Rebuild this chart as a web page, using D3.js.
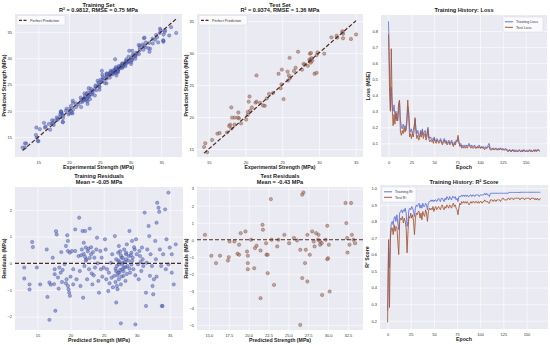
<!DOCTYPE html>
<html>
<head>
<meta charset="utf-8">
<script src="https://cdn.jsdelivr.net/npm/d3@7"></script>
<style>
body { margin: 0; background: #fff; }
text { font-family: "Liberation Sans", Arial, sans-serif; }
</style>
</head>
<body>
<svg id="chart" width="550" height="345"></svg>
<script>
// training set: predicted strength and residual (experimental - predicted)
var trainPred = [13.0,13.0,13.8,13.8,14.2,14.3,14.9,15.4,16.4,16.5,16.8,16.8,17.0,17.3,17.6,17.6,17.8,17.9,17.5,17.7,
  18.1,18.3,18.5,18.6,18.7,18.8,19.1,19.3,19.4,19.5,19.6,19.6,19.7,19.8,19.9,19.6,19.9,20.2,20.4,20.4,
  20.7,20.7,20.9,21.2,21.3,21.4,21.5,21.7,21.8,21.9,22.0,22.1,22.2,22.2,22.3,22.4,22.5,22.7,22.8,22.9,
  23.1,23.2,23.3,23.4,23.6,23.7,23.9,24.0,24.1,24.2,24.3,24.5,24.6,24.7,25.0,25.2,25.3,25.4,25.5,25.7,
  25.8,26.1,26.2,26.3,26.6,26.7,26.8,26.9,27.1,27.2,27.3,27.3,27.4,27.6,27.6,27.7,27.8,27.9,28.0,28.1,
  28.1,28.3,28.4,28.4,28.5,28.6,28.8,28.9,29.0,29.2,29.3,29.3,29.4,29.5,29.7,29.8,29.9,30.0,30.2,30.3,
  30.4,30.5,30.7,30.8,30.9,31.2,31.4,31.4,31.5,31.6,31.8,31.9,32.0,32.1,32.3,32.4,32.5,32.6,32.8,32.9,
  33.0,33.1,33.3,33.4,33.5,33.7,33.8,33.9,34.0,34.3,34.4,34.8,35.0,35.3,35.6,35.9,35.3,34.8,
  26.9,27.0,27.1,27.2,27.3,27.4,27.5,27.6,27.7,27.8,27.9,28.0,28.2,28.3,28.4,28.5,28.7,28.9,29.1,29.2,
  26.8,27.0,27.2,27.5,26.9,22.0,22.3,22.6,22.9,23.1,21.6,23.5,20.0,19.3,18.2,25.9,26.4,24.8,30.6,31.0,
  29.6,29.8,33.0,34.5];
var trainResid = [-0.16,-0.57,-0.79,-0.98,0.80,0.61,-0.16,-0.79,0.52,-1.26,-2.12,-0.72,-0.80,0.21,-0.41,-0.22,1.20,1.08,-0.78,-1.78,
  -0.53,-0.16,-0.35,0.42,-0.70,-0.25,-0.03,0.65,-0.60,1.05,0.84,-0.85,-0.98,-1.10,-1.22,0.46,0.40,0.46,-0.22,-0.79,
  0.46,1.27,-0.60,0.27,1.71,-0.29,-0.85,0.52,1.21,-1.29,0.77,-0.10,1.21,0.24,0.59,0.15,-0.60,0.55,-0.22,1.30,
  0.34,-0.38,-0.79,0.42,0.21,-0.16,0.52,0.96,0.00,-0.66,-1.10,0.46,-0.22,0.21,-0.16,0.90,0.52,-0.60,-0.22,-1.04,
  -0.35,0.02,-0.54,0.34,-0.47,1.02,-0.20,-1.47,-0.97,0.40,0.65,-0.04,-0.35,-2.25,-0.79,0.21,-0.22,0.02,-0.47,0.52,
  -0.16,-0.66,0.34,0.15,0.71,-0.10,0.27,1.21,-0.35,0.40,0.09,0.84,0.21,-0.22,0.52,-2.29,0.90,0.34,-0.04,-0.60,
  0.46,0.27,-0.29,0.59,0.15,1.90,-1.10,-1.60,0.02,0.52,1.40,1.02,-0.47,0.34,-0.10,-0.85,-1.16,-0.60,0.84,0.15,
  1.52,2.27,2.08,1.93,0.52,-0.10,-1.60,-1.60,0.34,2.02,-0.22,2.65,0.59,0.34,-0.79,0.71,-0.35,-0.04,
  -0.30,-0.10,-0.45,0.10,-0.60,0.05,-0.25,0.30,-0.50,-0.05,0.20,-0.30,0.05,-0.15,0.40,-0.40,0.10,-0.20,0.30,-0.05,
  -0.70,-0.85,-0.35,0.45,0.15,0.35,0.10,0.45,0.20,0.60,0.30,-0.45,-0.50,-0.75,-0.95,-0.75,-0.90,-0.50,0.05,-0.10,
  0.60,-0.45,-0.50,0.90];

// test set: predicted strength and residual
var testPred = [14.5,15.3,15.9,16.4,17.4,17.5,17.6,18.2,18.6,18.8,18.8,19.0,19.6,19.8,19.9,19.9,19.9,20.3,20.7,20.8,
  21.0,21.5,21.5,21.75,21.8,22.2,22.25,22.4,22.4,22.8,22.9,23.2,23.6,23.75,24.5,25.1,25.7,26.1,26.5,26.5,
  26.75,26.9,26.75,27.1,27.2,27.4,27.4,27.7,28.0,28.2,28.3,28.5,28.75,28.8,29.0,29.0,29.2,29.25,29.7,29.9,
  29.9,30.0,30.1,30.2,32.2,32.3,32.4,32.45,32.7,32.9,33.0,33.2,33.4];
var testResid = [0.29,-0.94,-1.37,-0.94,-1.22,-1.02,-0.10,-0.10,-0.82,-0.88,-0.29,0.39,0.49,-0.69,-0.94,-1.37,-1.73,0.00,-1.67,-0.49,
  -0.35,-0.63,-3.43,0.88,0.59,-0.20,-0.88,-0.88,-1.96,2.39,0.00,-2.65,-0.39,0.00,0.29,-0.20,0.10,-0.04,-0.59,-5.00,
  2.65,2.78,-2.25,-1.37,-0.59,0.29,-2.45,-0.88,0.49,-0.10,-0.39,0.39,0.00,0.29,-0.10,-0.29,-0.20,-3.24,0.00,0.82,
  -1.14,-1.08,-0.29,-3.04,2.16,0.98,0.10,-0.75,-0.29,2.16,0.29,0.00,-0.20];

// training history
var trainLoss = [0.86,0.60,0.31,0.45,0.33,0.30,0.34,0.27,0.25,0.29,
  0.24,0.31,0.36,0.24,0.21,0.19,0.22,0.20,0.21,0.18,
  0.22,0.33,0.30,0.20,0.17,0.19,0.16,0.18,0.21,0.25,
  0.19,0.16,0.18,0.15,0.14,0.18,0.16,0.19,0.15,0.17,
  0.18,0.14,0.16,0.20,0.15,0.13,0.14,0.12,0.13,0.12,
  0.14,0.12,0.11,0.13,0.12,0.11,0.12,0.13,0.11,0.10,
  0.12,0.13,0.11,0.12,0.10,0.11,0.12,0.10,0.11,0.12,
  0.10,0.09,0.11,0.10,0.12,0.11,0.13,0.10,0.09,0.10,
  0.08,0.09,0.08,0.09,0.08,0.09,0.08,0.09,0.10,0.09,
  0.08,0.09,0.08,0.08,0.09,0.08,0.07,0.08,0.08,0.09,
  0.08,0.07,0.08,0.07,0.08,0.07,0.08,0.07,0.08,0.09,
  0.10,0.07,0.07,0.06,0.07,0.07,0.06,0.07,0.07,0.06,
  0.07,0.06,0.07,0.07,0.06,0.07,0.06,0.06,0.07,0.06,
  0.06,0.05,0.06,0.06,0.05,0.06,0.06,0.05,0.06,0.05,
  0.06,0.05,0.05,0.06,0.05,0.05,0.06,0.05,0.06,0.05,
  0.05,0.06,0.05,0.05,0.06,0.05,0.06,0.05,0.05,0.06,
  0.05,0.06,0.05,0.06,0.06,0.05];
var testLoss = [0.78,0.45,0.30,0.69,0.32,0.21,0.28,0.22,0.30,0.24,
  0.25,0.35,0.37,0.17,0.15,0.18,0.16,0.20,0.17,0.19,
  0.25,0.37,0.28,0.14,0.16,0.13,0.16,0.14,0.18,0.26,
  0.17,0.13,0.15,0.12,0.13,0.17,0.14,0.18,0.13,0.15,
  0.16,0.12,0.14,0.19,0.13,0.11,0.12,0.11,0.12,0.10,
  0.13,0.11,0.10,0.12,0.11,0.10,0.11,0.12,0.10,0.09,
  0.11,0.12,0.10,0.11,0.09,0.10,0.11,0.09,0.10,0.11,
  0.09,0.08,0.10,0.09,0.11,0.12,0.15,0.11,0.08,0.09,
  0.07,0.08,0.07,0.08,0.07,0.08,0.07,0.08,0.09,0.08,
  0.07,0.08,0.07,0.07,0.08,0.07,0.07,0.08,0.07,0.08,
  0.07,0.07,0.08,0.07,0.07,0.06,0.07,0.07,0.07,0.08,
  0.08,0.06,0.06,0.06,0.07,0.06,0.06,0.07,0.06,0.06,
  0.06,0.06,0.07,0.06,0.06,0.06,0.06,0.06,0.06,0.06,
  0.05,0.05,0.06,0.05,0.05,0.05,0.06,0.05,0.05,0.05,
  0.05,0.05,0.05,0.06,0.05,0.05,0.05,0.05,0.06,0.05,
  0.05,0.05,0.05,0.05,0.06,0.05,0.05,0.05,0.05,0.06,
  0.05,0.06,0.05,0.06,0.06,0.05];
var trainR2 = [0.26,0.64,0.52,0.73,0.79,0.80,0.78,0.82,0.83,0.80,
  0.84,0.79,0.75,0.85,0.86,0.87,0.85,0.87,0.86,0.88,
  0.85,0.77,0.80,0.87,0.88,0.87,0.89,0.88,0.86,0.83,
  0.88,0.90,0.89,0.90,0.91,0.88,0.90,0.88,0.91,0.89,
  0.89,0.91,0.90,0.87,0.91,0.92,0.92,0.93,0.92,0.93,
  0.92,0.93,0.93,0.92,0.93,0.94,0.93,0.92,0.94,0.94,
  0.93,0.92,0.94,0.93,0.95,0.94,0.93,0.95,0.94,0.93,
  0.95,0.95,0.94,0.95,0.93,0.94,0.92,0.95,0.95,0.95,
  0.96,0.95,0.96,0.95,0.96,0.95,0.96,0.95,0.95,0.96,
  0.96,0.95,0.96,0.96,0.95,0.96,0.96,0.96,0.96,0.95,
  0.96,0.96,0.96,0.96,0.96,0.97,0.96,0.97,0.96,0.96,
  0.95,0.97,0.97,0.97,0.97,0.97,0.97,0.97,0.97,0.97,
  0.97,0.97,0.97,0.97,0.97,0.97,0.97,0.97,0.97,0.97,
  0.97,0.975,0.975,0.975,0.975,0.975,0.975,0.975,0.975,0.975,
  0.975,0.975,0.975,0.975,0.976,0.976,0.976,0.976,0.976,0.976,
  0.976,0.976,0.976,0.976,0.976,0.976,0.976,0.976,0.976,0.976,
  0.976,0.976,0.976,0.976,0.976,0.976];
var testR2 = [0.19,0.69,0.28,0.70,0.76,0.76,0.72,0.78,0.74,0.77,
  0.76,0.68,0.60,0.80,0.82,0.81,0.83,0.79,0.82,0.80,
  0.76,0.61,0.74,0.83,0.82,0.85,0.82,0.84,0.80,0.72,
  0.82,0.85,0.84,0.86,0.86,0.82,0.85,0.81,0.86,0.84,
  0.83,0.87,0.85,0.80,0.86,0.88,0.87,0.88,0.87,0.89,
  0.86,0.88,0.89,0.87,0.88,0.89,0.88,0.87,0.89,0.90,
  0.88,0.87,0.89,0.88,0.90,0.89,0.88,0.90,0.89,0.88,
  0.90,0.91,0.89,0.90,0.88,0.87,0.84,0.88,0.91,0.90,
  0.92,0.91,0.92,0.91,0.92,0.91,0.92,0.91,0.90,0.91,
  0.92,0.91,0.92,0.92,0.91,0.92,0.92,0.91,0.92,0.91,
  0.92,0.92,0.91,0.92,0.92,0.93,0.92,0.92,0.92,0.91,
  0.91,0.93,0.93,0.93,0.92,0.93,0.93,0.92,0.93,0.93,
  0.93,0.93,0.92,0.93,0.94,0.94,0.93,0.93,0.93,0.93,
  0.94,0.94,0.93,0.94,0.94,0.94,0.93,0.94,0.94,0.94,
  0.94,0.94,0.94,0.93,0.94,0.94,0.94,0.94,0.93,0.94,
  0.94,0.94,0.94,0.94,0.93,0.94,0.94,0.94,0.94,0.93,
  0.94,0.93,0.94,0.93,0.93,0.94];

var strengthTicks = [15, 20, 25, 30, 35];
var testResidXTicks = [15, 17.5, 20, 22.5, 25, 27.5, 30, 32.5];
var epochTicks = [0, 25, 50, 75, 100, 125, 150];
var lossTicks = [0.1, 0.2, 0.3, 0.4, 0.5, 0.6, 0.7, 0.8];
var r2Ticks = [0.2, 0.3, 0.4, 0.5, 0.6, 0.7, 0.8, 0.9, 1.0];

var blue = "#5f6fc4", blueEdge = "#2c3a8c";
var brown = "#a8705e", brownEdge = "#5c2e22";
var lossBlue = "#6174d6", lossRed = "#a65a3a";
var refLine = "#4a2a22";

var svg = d3.select("#chart");

function panel(cfg) {
    var g = svg.append("g")
        .attr("transform", "translate(" + cfg.left + "," + cfg.top + ")");
    var x = d3.scaleLinear().domain(cfg.xDomain).range([0, cfg.w]);
    var y = d3.scaleLinear().domain(cfg.yDomain).range([cfg.h, 0]);

    g.append("rect").attr("width", cfg.w).attr("height", cfg.h).attr("fill", "#eaeaf2");

    // white grid
    g.append("g")
        .attr("transform", "translate(0," + cfg.h + ")")
        .call(d3.axisBottom(x).tickValues(cfg.xTicks).tickSize(-cfg.h).tickFormat(""))
        .call(s => s.select(".domain").remove())
        .selectAll("line").attr("stroke", "#fff").attr("stroke-width", 0.6);
    g.append("g")
        .call(d3.axisLeft(y).tickValues(cfg.yTicks).tickSize(-cfg.w).tickFormat(""))
        .call(s => s.select(".domain").remove())
        .selectAll("line").attr("stroke", "#fff").attr("stroke-width", 0.6);

    // tick labels
    var xa = g.append("g")
        .attr("transform", "translate(0," + cfg.h + ")")
        .call(d3.axisBottom(x).tickValues(cfg.xTicks).tickSize(0).tickPadding(4).tickFormat(cfg.xFmt));
    var ya = g.append("g")
        .call(d3.axisLeft(y).tickValues(cfg.yTicks).tickSize(0).tickPadding(3).tickFormat(cfg.yFmt));
    [xa, ya].forEach(function(a) {
        a.select(".domain").remove();
        a.selectAll("text").attr("font-size", 4).attr("fill", "#333")
            .attr("font-family", "Liberation Sans, Arial, sans-serif");
    });

    // titles and labels
    cfg.title.forEach(function(t, i) {
        g.append("text")
            .attr("x", cfg.w / 2).attr("y", cfg.titleY[i])
            .attr("text-anchor", "middle").attr("font-size", 5.6)
            .attr("font-weight", "bold").attr("fill", "#222").text(t);
    });
    g.append("text")
        .attr("x", cfg.w / 2).attr("y", cfg.h + 12)
        .attr("text-anchor", "middle").attr("font-size", 5.2)
        .attr("font-weight", "bold").attr("fill", "#222").text(cfg.xLabel);
    g.append("text")
        .attr("transform", "translate(" + cfg.yLabelX + "," + (cfg.h / 2) + ") rotate(-90)")
        .attr("text-anchor", "middle").attr("font-size", 5.2)
        .attr("font-weight", "bold").attr("fill", "#222").text(cfg.yLabel);

    return { g: g, x: x, y: y };
}

function legend(g, lx, ly, w, items) {
    var lg = g.append("g").attr("transform", "translate(" + lx + "," + ly + ")");
    lg.append("rect").attr("width", w).attr("height", 4 + items.length * 5.5)
        .attr("rx", 1).attr("fill", "#fff").attr("fill-opacity", 0.8)
        .attr("stroke", "#d0d0d8").attr("stroke-width", 0.4);
    items.forEach(function(it, i) {
        var yy = 4.8 + i * 5.5;
        lg.append("line").attr("x1", 2).attr("x2", 10).attr("y1", yy).attr("y2", yy)
            .attr("stroke", it.color).attr("stroke-width", it.dash ? 1.2 : 1)
            .attr("stroke-dasharray", it.dash ? "3,1.5" : null);
        lg.append("text").attr("x", 13).attr("y", yy + 1.3)
            .attr("font-size", 3.7).attr("fill", "#333").text(it.label);
    });
}

function scatter(p, xs, ys, fill, edge) {
    p.g.append("g").selectAll("circle")
        .data(xs.map(function(d, i) { return [d, ys[i]]; }))
        .join("circle")
        .attr("cx", d => p.x(d[0])).attr("cy", d => p.y(d[1]))
        .attr("r", 1.7)
        .attr("fill", fill).attr("fill-opacity", 0.6)
        .attr("stroke", edge).attr("stroke-opacity", 0.7).attr("stroke-width", 0.4);
}

var trainExp = trainPred.map((d, i) => d + trainResid[i]);
var testExp = testPred.map((d, i) => d + testResid[i]);
var epochs = d3.range(trainLoss.length);

// Training Set
var p1 = panel({ left: 15, top: 14, w: 167, h: 143,
    xDomain: [11.2, 38.4], yDomain: [11.2, 38.4],
    xTicks: strengthTicks, yTicks: strengthTicks, xFmt: d3.format("d"), yFmt: d3.format("d"),
    title: ["Training Set", "R\u00b2 = 0.9812, RMSE = 0.75 MPa"], titleY: [-7.5, -2],
    xLabel: "Experimental Strength (MPa)", yLabel: "Predicted Strength (MPa)", yLabelX: -9 });
scatter(p1, trainExp, trainPred, blue, blueEdge);
var lo1 = d3.min(trainExp.concat(trainPred)), hi1 = d3.max(trainExp.concat(trainPred));
p1.g.append("line").attr("x1", p1.x(lo1)).attr("y1", p1.y(lo1)).attr("x2", p1.x(hi1)).attr("y2", p1.y(hi1))
    .attr("stroke", refLine).attr("stroke-width", 1.2).attr("stroke-dasharray", "4,2");
legend(p1.g, 2, 1.5, 48, [{ label: "Perfect Prediction", color: refLine, dash: true }]);

// Test Set
var p2 = panel({ left: 197, top: 14, w: 166, h: 143,
    xDomain: [13.4, 36.0], yDomain: [13.75, 36.1],
    xTicks: strengthTicks, yTicks: strengthTicks, xFmt: d3.format("d"), yFmt: d3.format("d"),
    title: ["Test Set", "R\u00b2 = 0.9374, RMSE = 1.36 MPa"], titleY: [-7.5, -2],
    xLabel: "Experimental Strength (MPa)", yLabel: "Predicted Strength (MPa)", yLabelX: -9 });
scatter(p2, testExp, testPred, brown, brownEdge);
var lo2 = d3.min(testExp.concat(testPred)), hi2 = d3.max(testExp.concat(testPred));
p2.g.append("line").attr("x1", p2.x(lo2)).attr("y1", p2.y(lo2)).attr("x2", p2.x(hi2)).attr("y2", p2.y(hi2))
    .attr("stroke", refLine).attr("stroke-width", 1.2).attr("stroke-dasharray", "4,2");
legend(p2.g, 2, 1.5, 48, [{ label: "Perfect Prediction", color: refLine, dash: true }]);

// Loss history
var p3 = panel({ left: 381, top: 15, w: 166, h: 142,
    xDomain: [-8.25, 173.25], yDomain: [0.015, 0.9],
    xTicks: epochTicks, yTicks: lossTicks, xFmt: d3.format("d"), yFmt: d3.format(".1f"),
    title: ["Training History: Loss"], titleY: [-3],
    xLabel: "Epoch", yLabel: "Loss (MSE)", yLabelX: -11 });
[[trainLoss, lossBlue], [testLoss, lossRed]].forEach(function(s) {
    p3.g.append("path").datum(s[0])
        .attr("fill", "none").attr("stroke", s[1]).attr("stroke-width", 0.9)
        .attr("d", d3.line().x((d, i) => p3.x(epochs[i])).y(d => p3.y(d)));
});
legend(p3.g, 122, 2, 40, [{ label: "Training Loss", color: lossBlue }, { label: "Test Loss", color: lossRed }]);

// Training residuals
var p4 = panel({ left: 15, top: 187, w: 168, h: 143,
    xDomain: [11.6, 37.0], yDomain: [-2.5, 2.86],
    xTicks: strengthTicks, yTicks: [-2, -1, 0, 1, 2], xFmt: d3.format("d"), yFmt: d3.format("d"),
    title: ["Training Residuals", "Mean = -0.05 MPa"], titleY: [-9, -3],
    xLabel: "Predicted Strength (MPa)", yLabel: "Residuals (MPa)", yLabelX: -9 });
scatter(p4, trainPred, trainResid, blue, blueEdge);
p4.g.append("line").attr("x1", 0).attr("x2", p4.x.range()[1]).attr("y1", p4.y(0)).attr("y2", p4.y(0))
    .attr("stroke", refLine).attr("stroke-width", 1.2).attr("stroke-dasharray", "4,2");

// Test residuals
var p5 = panel({ left: 197, top: 187, w: 166, h: 143,
    xDomain: [13.5, 34.4], yDomain: [-5.3, 3.1],
    xTicks: testResidXTicks, yTicks: [-5, -4, -3, -2, -1, 0, 1, 2, 3], xFmt: d3.format(".1f"), yFmt: d3.format("d"),
    title: ["Test Residuals", "Mean = -0.43 MPa"], titleY: [-9, -3],
    xLabel: "Predicted Strength (MPa)", yLabel: "Residuals (MPa)", yLabelX: -9 });
scatter(p5, testPred, testResid, brown, brownEdge);
p5.g.append("line").attr("x1", 0).attr("x2", p5.x.range()[1]).attr("y1", p5.y(0)).attr("y2", p5.y(0))
    .attr("stroke", refLine).attr("stroke-width", 1.2).attr("stroke-dasharray", "4,2");

// R2 history
var p6 = panel({ left: 380, top: 185, w: 168, h: 144,
    xDomain: [-8.25, 173.25], yDomain: [0.15, 1.02],
    xTicks: epochTicks, yTicks: r2Ticks, xFmt: d3.format("d"), yFmt: d3.format(".1f"),
    title: ["Training History: R\u00b2 Score"], titleY: [-1.5],
    xLabel: "Epoch", yLabel: "R\u00b2 Score", yLabelX: -11 });
[[trainR2, lossBlue], [testR2, lossRed]].forEach(function(s) {
    p6.g.append("path").datum(s[0])
        .attr("fill", "none").attr("stroke", s[1]).attr("stroke-width", 0.9)
        .attr("d", d3.line().x((d, i) => p6.x(epochs[i])).y(d => p6.y(d)));
});
legend(p6.g, 2, 2, 34, [{ label: "Training R\u00b2", color: lossBlue }, { label: "Test R\u00b2", color: lossRed }]);
</script>
</body>
</html>
